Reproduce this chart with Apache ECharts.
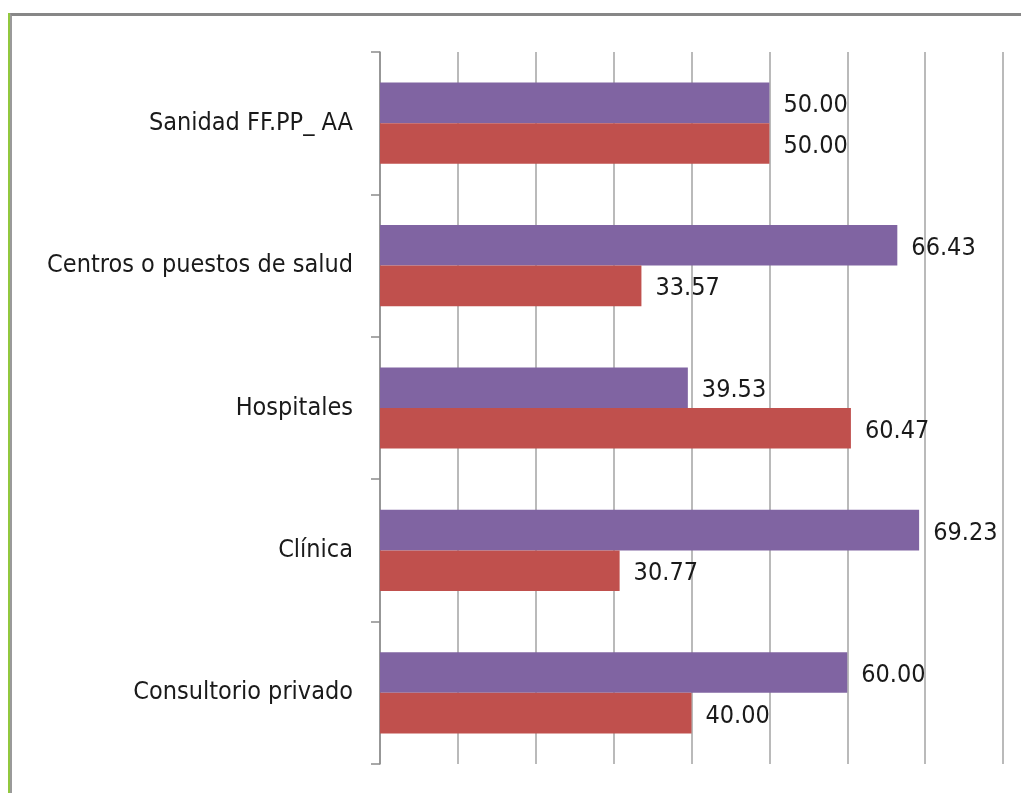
<!DOCTYPE html>
<html>
<head>
<meta charset="utf-8">
<script src="https://cdn.jsdelivr.net/npm/echarts@6/dist/echarts.min.js"></script>
<style>
  html, body { margin: 0; padding: 0; background: #fff; }
  #chart { width: 1021px; height: 793px; }
  /* slide-style frame: grey rule on top, green + grey rules on the left */
  #frameGreen { position: absolute; left: 8px; top: 13px; bottom: 0; width: 2px; background: #92c83e; pointer-events: none; }
  #frameGrey { position: absolute; left: 10px; top: 13px; right: 0; bottom: 0; border-top: 3px solid #878787; border-left: 2px solid #9a9a9a; pointer-events: none; }
</style>
</head>
<body>
<div id="chart"></div>
<div id="frameGreen"></div>
<div id="frameGrey"></div>
<script>
// Categories from top to bottom
const categories = [
  'Sanidad FF.PP_ AA',
  'Centros o puestos de salud',
  'Hospitales',
  'Clínica',
  'Consultorio privado'
];
// Upper bar in each group (purple)
const seriesA = [50.00, 66.43, 39.53, 69.23, 60.00];
// Lower bar in each group (red)
const seriesB = [50.00, 33.57, 60.47, 30.77, 40.00];

const FONT = '"Liberation Sans Narrow", "DejaVu Sans Condensed", "Liberation Sans", sans-serif';

const labelStyle = {
  show: true,
  position: 'right',
  distance: 14,
  offset: [0, 3],
  color: '#1a1a1a',
  fontFamily: FONT,
  fontSize: 25,
  formatter: p => p.value.toFixed(2)
};

const chart = echarts.init(document.getElementById('chart'), null, { renderer: 'canvas' });
chart.setOption({
  animation: false,
  backgroundColor: 'transparent',
  grid: { left: 380, top: 52, right: 18, bottom: 29, containLabel: false, outerBoundsMode: 'none' },
  xAxis: {
    type: 'value',
    min: 0,
    max: 80,
    interval: 10,
    axisLine: { show: false },
    axisTick: { show: false },
    axisLabel: { show: false },
    splitLine: { show: true, lineStyle: { color: '#a3a3a3', width: 1.5 } }
  },
  yAxis: {
    type: 'category',
    inverse: true,
    data: categories,
    axisLine: { show: true, lineStyle: { color: '#8c8c8c', width: 1.5 } },
    axisTick: { show: true, length: 9, lineStyle: { color: '#8c8c8c', width: 1.5 } },
    axisLabel: { margin: 27, color: '#1a1a1a', fontFamily: FONT, fontSize: 25 }
  },
  series: [
    {
      type: 'bar',
      data: seriesA,
      itemStyle: { color: '#8064a2' },
      barGap: '0%',
      barCategoryGap: '43%',
      label: labelStyle
    },
    {
      type: 'bar',
      data: seriesB,
      itemStyle: { color: '#c0504d' },
      barGap: '0%',
      barCategoryGap: '43%',
      label: labelStyle
    }
  ]
});
</script>
</body>
</html>
